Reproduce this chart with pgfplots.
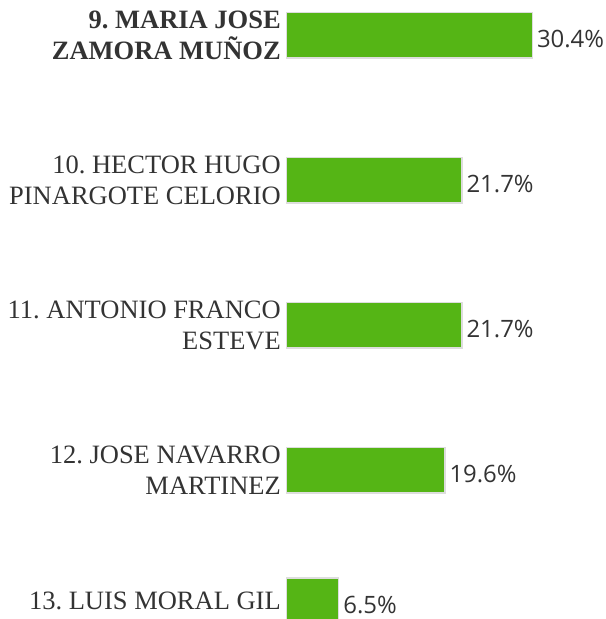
\documentclass[border=0pt]{standalone}
\usepackage{pgfplots}
\pgfplotsset{compat=1.18}
\usepackage{fontspec}
\setmainfont{Liberation Serif}
\newfontfamily\valfont{Open Sans}
\definecolor{bargreen}{HTML}{55B515}
\definecolor{txt}{HTML}{333333}
\definecolor{bordergray}{HTML}{DDDDDD}
\frenchspacing
\begin{document}
\begin{tikzpicture}
\useasboundingbox (0,0) rectangle (606bp,-619bp);
\begin{axis}[
  at={(286bp,0)}, anchor=north west,
  scale only axis, width=320bp, height=619bp,
  xbar, xmin=0, xmax=39.5,
  y dir=reverse, ymin=-0.2414, ymax=4.0276,
  ytick={0,1,2,3,3.9},
  yticklabels={{\textbf{9. MARIA JOSE}\\\textbf{ZAMORA MUÑOZ}},{10. HECTOR HUGO\\PINARGOTE CELORIO},{11. ANTONIO FRANCO\\ESTEVE},{12. JOSE NAVARRO\\MARTINEZ},{13. LUIS MORAL GIL}},
  yticklabel style={align=right, font=\frenchspacing\fontsize{26.6}{31}\selectfont, text=txt, inner sep=0pt, xshift=-5bp},
  xtick=\empty,
  axis line style={draw=none},
  major tick length=0pt,
  bar width=45.5bp,
  point meta=explicit symbolic,
  nodes near coords={\pgfplotspointmeta\%},
  nodes near coords style={font=\valfont\fontsize{24}{24}\selectfont, text=txt, anchor=west, inner sep=0pt, xshift=4bp, yshift=-4bp},
]
\addplot[fill=bargreen, draw=bordergray, line width=1.5bp] coordinates {
  (30.4,0) [30.4]
  (21.7,1) [21.7]
  (21.7,2) [21.7]
  (19.6,3) [19.6]
  (6.5,3.9) [6.5]
};
\end{axis}
\end{tikzpicture}
\end{document}
